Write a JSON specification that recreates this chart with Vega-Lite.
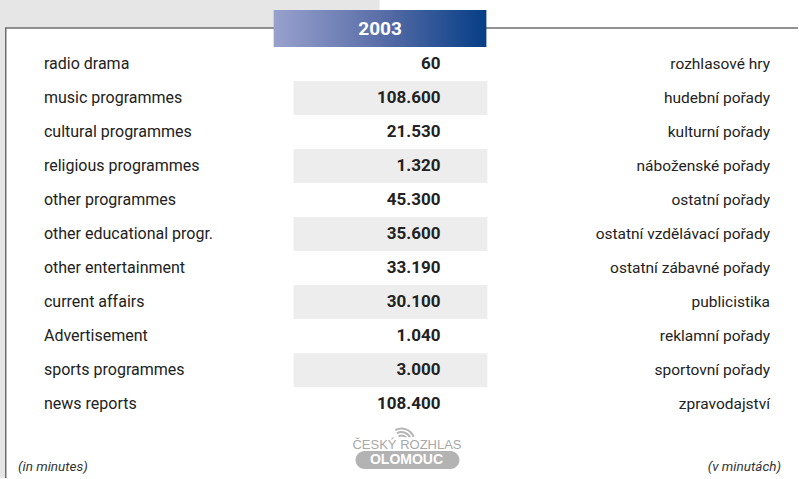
{
  "$schema": "https://vega.github.io/schema/vega-lite/v6.json",
  "width": 799,
  "height": 479,
  "autosize": {"type": "fit", "contains": "padding"},
  "padding": 0,
  "background": "white",
  "config": {
    "view": {"stroke": null},
    "locale": {"number": {"decimal": ",", "thousands": ".", "grouping": [3], "currency": ["", " Kč"]}},
    "text": {"font": "Roboto"}
  },
  "datasets": {
    "rows": [
      {"i": 0, "en": "radio drama", "value": 60, "cz": "rozhlasové hry"},
      {"i": 1, "en": "music programmes", "value": 108600, "cz": "hudební pořady"},
      {"i": 2, "en": "cultural programmes", "value": 21530, "cz": "kulturní pořady"},
      {"i": 3, "en": "religious programmes", "value": 1320, "cz": "náboženské pořady"},
      {"i": 4, "en": "other programmes", "value": 45300, "cz": "ostatní pořady"},
      {"i": 5, "en": "other educational progr.", "value": 35600, "cz": "ostatní vzdělávací pořady"},
      {"i": 6, "en": "other entertainment", "value": 33190, "cz": "ostatní zábavné pořady"},
      {"i": 7, "en": "current affairs", "value": 30100, "cz": "publicistika"},
      {"i": 8, "en": "Advertisement", "value": 1040, "cz": "reklamní pořady"},
      {"i": 9, "en": "sports programmes", "value": 3000, "cz": "sportovní pořady"},
      {"i": 10, "en": "news reports", "value": 108400, "cz": "zpravodajství"}
    ]
  },
  "encoding": {
    "x": {"type": "quantitative", "scale": {"domain": [0, 799], "nice": false, "zero": false}, "axis": null},
    "y": {"type": "quantitative", "scale": {"domain": [-1.877, 12.17], "nice": false, "zero": false, "reverse": true}, "axis": null}
  },
  "layer": [
    {
      "data": {"values": [{}]},
      "mark": {"type": "rect", "fill": "#e6e6e6"},
      "encoding": {"x": {"datum": 0}, "x2": {"datum": 380}, "y": {"datum": -1.877}, "y2": {"datum": -1.056}}
    },
    {
      "data": {"values": [{}]},
      "mark": {"type": "rect", "fill": "#e6e6e6"},
      "encoding": {"x": {"datum": 0}, "x2": {"datum": 5.5}, "y": {"datum": -1.877}, "y2": {"datum": 12.17}}
    },
    {
      "data": {"values": [{}]},
      "mark": {"type": "rule", "stroke": "#6e6e6e", "strokeWidth": 1.5},
      "encoding": {"x": {"datum": 5}, "x2": {"datum": 799}, "y": {"datum": -1.056}}
    },
    {
      "data": {"values": [{}]},
      "mark": {"type": "rule", "stroke": "#6e6e6e", "strokeWidth": 1.5},
      "encoding": {"x": {"datum": 5.75}, "y": {"datum": -1.056}, "y2": {"datum": 12.17}}
    },
    {
      "data": {"values": [{}]},
      "mark": {"type": "rect", "fill": {"gradient": "linear", "x1": 0, "x2": 1, "y1": 0, "y2": 0, "stops": [{"offset": 0, "color": "#98a1cd"}, {"offset": 0.5, "color": "#5a6ea8"}, {"offset": 1, "color": "#063e86"}]}},
      "encoding": {"x": {"datum": 274}, "x2": {"datum": 487}, "y": {"datum": -1.584}, "y2": {"datum": -0.4985}}
    },
    {
      "data": {"values": [{"t": "2003"}]},
      "mark": {"type": "text", "fill": "white", "fontSize": 19, "fontWeight": "bold", "align": "center", "baseline": "middle"},
      "encoding": {"x": {"datum": 380.5}, "y": {"datum": -1.03}, "text": {"field": "t"}}
    },
    {
      "data": {"name": "rows"},
      "transform": [{"filter": "datum.i % 2 == 1"}],
      "mark": {"type": "rect", "fill": "#ededed", "yOffset": -17, "y2Offset": 17},
      "encoding": {
        "x": {"datum": 294}, "x2": {"datum": 488},
        "y": {"field": "i"},
        "y2": {"field": "i"}
      }
    },
    {
      "data": {"name": "rows"},
      "mark": {"type": "text", "align": "left", "baseline": "middle", "fontSize": 16, "fill": "#222222"},
      "encoding": {"x": {"datum": 44}, "y": {"field": "i"}, "text": {"field": "en"}}
    },
    {
      "data": {"name": "rows"},
      "mark": {"type": "text", "align": "right", "baseline": "middle", "fontSize": 17, "fontWeight": "bold", "fill": "#222222"},
      "encoding": {"x": {"datum": 441}, "y": {"field": "i"}, "text": {"field": "value", "format": ",d"}}
    },
    {
      "data": {"name": "rows"},
      "mark": {"type": "text", "align": "right", "baseline": "middle", "fontSize": 15.5, "fill": "#222222"},
      "encoding": {"x": {"datum": 771}, "y": {"field": "i"}, "text": {"field": "cz"}}
    },
    {
      "data": {"values": [{"t": "(in minutes)"}]},
      "mark": {"type": "text", "align": "left", "baseline": "middle", "fontSize": 13.5, "fontStyle": "italic", "fill": "#333333"},
      "encoding": {"x": {"datum": 18}, "y": {"datum": 11.848}, "text": {"field": "t"}}
    },
    {
      "data": {"values": [{"t": "(v minutách)"}]},
      "mark": {"type": "text", "align": "right", "baseline": "middle", "fontSize": 13.5, "fontStyle": "italic", "fill": "#333333"},
      "encoding": {"x": {"datum": 782}, "y": {"datum": 11.848}, "text": {"field": "t"}}
    },
    {
      "data": {"values": [{}]},
      "mark": {"type": "arc", "fill": "#b4b4b4", "radius": 14, "radius2": 12, "theta": -0.5, "theta2": 1.2},
      "encoding": {"x": {"datum": 402}, "y": {"datum": 11.1}}
    },
    {
      "data": {"values": [{}]},
      "mark": {"type": "arc", "fill": "#b4b4b4", "radius": 10.5, "radius2": 8.5, "theta": -0.5, "theta2": 1.2},
      "encoding": {"x": {"datum": 402}, "y": {"datum": 11.1}}
    },
    {
      "data": {"values": [{}]},
      "mark": {"type": "arc", "fill": "#b4b4b4", "radius": 7, "radius2": 5, "theta": -0.5, "theta2": 1.2},
      "encoding": {"x": {"datum": 402}, "y": {"datum": 11.1}}
    },
    {
      "data": {"values": [{}]},
      "mark": {"type": "rect", "fill": "white"},
      "encoding": {"x": {"datum": 350}, "x2": {"datum": 465}, "y": {"datum": 10.97}, "y2": {"datum": 11.37}}
    },
    {
      "data": {"values": [{"t": "ČESKÝ ROZHLAS"}]},
      "mark": {"type": "text", "align": "center", "baseline": "middle", "fontSize": 13, "fill": "#a8a8a8", "font": "Liberation Sans, Arial"},
      "encoding": {"x": {"datum": 407.5}, "y": {"datum": 11.2}, "text": {"field": "t"}}
    },
    {
      "data": {"values": [{}]},
      "mark": {"type": "rect", "fill": "#b3b3b3", "cornerRadius": 9},
      "encoding": {"x": {"datum": 356}, "x2": {"datum": 460}, "y": {"datum": 11.378}, "y2": {"datum": 11.906}}
    },
    {
      "data": {"values": [{"t": "OLOMOUC"}]},
      "mark": {"type": "text", "align": "center", "baseline": "middle", "fontSize": 14, "fontWeight": "bold", "fill": "white", "font": "Liberation Sans, Arial"},
      "encoding": {"x": {"datum": 407}, "y": {"datum": 11.65}, "text": {"field": "t"}}
    }
  ]
}
